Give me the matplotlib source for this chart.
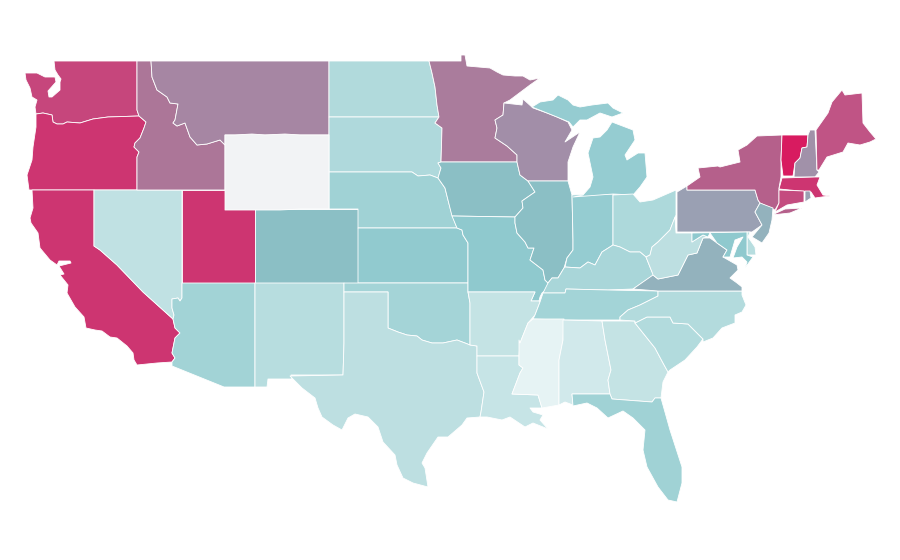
"""US states choropleth, outlines traced by hand in figure pixels."""
import numpy as np
import matplotlib
matplotlib.use("Agg")
import matplotlib.pyplot as plt
from matplotlib.collections import PolyCollection
from matplotlib.colors import LinearSegmentedColormap, Normalize

# state value on a 0-1 scale, nan = no data
states = ["WA", "OR", "CA", "NV", "ID", "MT", "UT", "AZ", "CO", "NM", "ND", "SD",
          "NE", "KS", "OK", "TX", "MN", "IA", "MO", "AR", "LA", "WI", "IL", "IN",
          "MI", "OH", "KY", "TN", "MS", "AL", "GA", "FL", "SC", "NC", "VA", "WV",
          "PA", "NY", "VT", "NH", "ME", "MA", "CT", "RI", "NJ", "DE", "MD", "WY"]
values = [0.81, 0.85, 0.85, 0.11, 0.65, 0.60, 0.85, 0.21, 0.40, 0.14, 0.16, 0.165,
          0.215, 0.29, 0.20, 0.12, 0.63, 0.40, 0.30, 0.10, 0.09, 0.57, 0.40, 0.27,
          0.27, 0.17, 0.185, 0.205, 0.0, 0.06, 0.10, 0.215, 0.155, 0.15, 0.45, 0.12,
          0.50, 0.72, 1.0, 0.56, 0.78, 0.85, 0.80, 0.50, 0.45, 0.14, 0.30, np.nan]

WA = [(54, 61), (137, 61), (137, 110), (139, 116), (108, 117), (93, 119), (80, 123), (67, 122),
      (63, 124), (57, 124), (53, 122), (52, 115), (43, 113), (36, 114), (35, 107), (37, 100),
      (32, 97), (30, 88), (26, 80), (25, 73), (37, 73), (45, 77), (55, 77), (56, 82), (48, 91),
      (49, 97), (52, 97), (60, 90), (60, 82), (61, 79), (58, 75), (55, 70)]
OR = [(36, 114), (43, 113), (52, 115), (53, 122), (57, 124), (63, 124), (67, 122), (80, 123),
      (93, 119), (108, 117), (139, 116), (146, 122), (144, 128), (140, 138), (135, 143),
      (134, 147), (139, 152), (137, 157), (137, 190), (29, 190), (27, 175), (32, 160),
      (33, 147), (36, 127)]
CA = [(32, 190), (94, 190), (94, 246), (100, 250), (117, 265), (143, 292), (173, 319), (175, 328),
      (180, 333), (175, 338), (173, 348), (172, 353), (175, 358), (172, 362), (157, 363),
      (137, 365), (134, 360), (133, 353), (127, 346), (117, 338), (110, 337), (102, 331),
      (95, 330), (86, 328), (84, 317), (75, 307), (67, 293), (68, 285), (60, 275), (64, 274),
      (59, 266), (71, 263), (70, 261), (59, 261), (57, 265), (50, 260), (40, 248), (38, 233),
      (31, 223), (30, 218), (33, 208)]
NV = [(94, 190), (182, 190), (182, 298), (180, 301), (178, 298), (172, 299), (172, 308),
      (174, 315), (173, 319), (143, 292), (117, 265), (100, 250), (94, 246)]
ID = [(137, 61), (151, 61), (152, 77), (157, 90), (167, 97), (170, 103), (178, 104), (175, 120),
      (173, 123), (177, 126), (185, 123), (190, 137), (197, 145), (207, 144), (220, 140),
      (225, 145), (225, 190), (137, 190), (137, 157), (139, 152), (134, 147), (135, 143),
      (140, 138), (144, 128), (146, 122), (139, 116), (137, 110)]
MT = [(151, 61), (329, 61), (329, 135), (225, 135), (225, 145), (220, 140), (207, 144), (197, 145),
      (190, 137), (185, 123), (177, 126), (173, 123), (175, 120), (178, 104), (170, 103),
      (167, 97), (157, 90), (152, 77)]
WY = [(225, 135), (235, 135), (252, 134), (265, 135), (285, 134), (300, 135), (329, 135),
      (329, 209), (300, 209), (280, 210), (225, 210)]
UT = [(182, 190), (225, 190), (225, 209), (255, 209), (255, 283), (182, 283)]
AZ = [(182, 283), (255, 283), (255, 387), (224, 387), (172, 366), (172, 362), (175, 358),
      (172, 353), (173, 348), (175, 338), (180, 333), (175, 328), (173, 319), (174, 315),
      (172, 308), (172, 299), (178, 298), (180, 301), (182, 298)]
CO = [(255, 209), (358, 209), (358, 283), (255, 283)]
NM = [(255, 283), (344, 283), (344, 343), (343, 375), (291, 375), (292, 379), (268, 379),
      (267, 387), (255, 387)]
ND = [(329, 61), (429, 61), (432, 73), (435, 87), (437, 105), (439, 117), (329, 117)]
SD = [(329, 117), (439, 117), (435, 123), (442, 128), (441, 162), (438, 163), (441, 168),
      (438, 178), (430, 175), (418, 176), (412, 172), (329, 172)]
NE = [(329, 172), (412, 172), (418, 176), (430, 175), (438, 178), (445, 188), (448, 200),
      (452, 215), (457, 228), (358, 228), (358, 209), (329, 209)]
KS = [(358, 228), (457, 228), (462, 230), (463, 235), (468, 243), (468, 283), (358, 283)]
OK = [(344, 283), (468, 283), (468, 292), (470, 303), (470, 345), (465, 343), (457, 340),
      (443, 343), (432, 343), (422, 340), (417, 336), (407, 335), (398, 332), (388, 328),
      (388, 292), (344, 292)]
TX = [(344, 292), (388, 292), (388, 328), (398, 332), (407, 335), (417, 336), (422, 340),
      (432, 343), (443, 343), (457, 340), (465, 343), (470, 345), (477, 346), (477, 373),
      (484, 392), (481, 412), (480, 417), (467, 418), (462, 425), (448, 437), (438, 437),
      (427, 453), (422, 463), (425, 468), (428, 487), (413, 483), (403, 478), (397, 465),
      (395, 455), (383, 442), (378, 427), (368, 417), (355, 414), (348, 418), (342, 430),
      (333, 425), (322, 417), (318, 408), (315, 398), (302, 388), (290, 376), (343, 375),
      (344, 343)]
MN = [(429, 61), (461, 61), (461, 55), (465, 55), (467, 66), (490, 68), (497, 72), (503, 75),
      (515, 76), (523, 76), (530, 80), (540, 78), (530, 85), (510, 100), (504, 103), (503, 115),
      (495, 120), (497, 128), (495, 138), (507, 146), (517, 155), (517, 162), (441, 162),
      (442, 128), (435, 123), (439, 117), (437, 105), (435, 87), (432, 73)]
IA = [(441, 162), (517, 162), (520, 175), (528, 181), (535, 192), (522, 201), (523, 208),
      (515, 217), (452, 216), (448, 200), (445, 188), (438, 178), (441, 168), (438, 163)]
MO = [(452, 216), (515, 217), (515, 223), (517, 233), (525, 242), (528, 248), (534, 248), (530, 260),
      (543, 270), (545, 280), (548, 283), (548, 288), (542, 293), (540, 297), (539, 301),
      (531, 301), (535, 292), (468, 292), (468, 243), (463, 235), (462, 230), (457, 228)]
AR = [(468, 292), (535, 292), (531, 301), (539, 301), (540, 302), (535, 315), (528, 323),
      (520, 343), (519, 356), (477, 356), (477, 346), (470, 345), (470, 303)]
LA = [(477, 356), (519, 356), (519, 365), (523, 368), (520, 373), (512, 394), (538, 395),
      (542, 408), (530, 408), (533, 412), (543, 415), (540, 420), (548, 429), (533, 423),
      (525, 427), (510, 417), (502, 420), (487, 417), (480, 417), (481, 412), (484, 392),
      (477, 373)]
WI = [(504, 103), (522, 105), (523, 99), (533, 108), (547, 113), (557, 117), (568, 122), (572, 130),
      (565, 142), (580, 132), (573, 147), (568, 162), (568, 181), (528, 181), (520, 175),
      (517, 162), (517, 155), (507, 146), (495, 138), (497, 128), (495, 120), (503, 115)]
IL = [(528, 181), (568, 181), (572, 195), (573, 240), (573, 250), (567, 258), (564, 268),
      (558, 278), (552, 278), (548, 283), (545, 280), (543, 270), (530, 260), (534, 248),
      (528, 248), (525, 242), (517, 233), (515, 223), (515, 217), (523, 208), (522, 201), (535, 192)]
IN = [(572, 195), (613, 194), (613, 245), (602, 252), (595, 265), (588, 262), (580, 268),
      (565, 267), (567, 258), (573, 250), (573, 240)]
MI = [(573, 197), (613, 194), (633, 195), (640, 187), (647, 177), (645, 153), (638, 153),
      (627, 160), (625, 155), (635, 140), (633, 130), (612, 122), (607, 130), (600, 137),
      (593, 138), (588, 153), (593, 177), (590, 187), (583, 195)]
MI_UPPER = [(532, 107), (540, 102), (553, 100), (558, 95), (568, 100), (573, 105), (580, 107),
            (592, 105), (608, 103), (613, 108), (623, 113), (612, 117), (600, 113), (587, 120),
            (580, 120), (573, 127), (569, 122), (557, 117), (547, 113)]
OH = [(613, 195), (633, 194), (640, 202), (653, 200), (676, 190), (676, 215), (670, 230),
      (658, 242), (652, 247), (650, 255), (646, 257), (640, 252), (630, 252), (620, 247), (613, 245)]
KY = [(548, 283), (552, 278), (558, 278), (564, 268), (565, 267), (580, 268), (588, 262), (595, 265),
      (602, 252), (613, 245), (620, 247), (630, 252), (640, 252), (646, 257), (652, 272),
      (655, 274), (633, 289), (608, 290), (566, 289), (565, 293), (543, 293)]
TN = [(543, 293), (565, 293), (566, 289), (608, 290), (658, 291), (658, 296), (640, 305), (628, 310),
      (620, 317), (620, 320), (563, 320), (533, 319), (535, 315), (540, 302)]
MS = [(533, 319), (564, 319), (563, 340), (559, 360), (559, 405), (542, 408), (538, 395), (512, 394),
      (520, 373), (523, 368), (519, 365), (519, 340), (520, 343), (528, 323)]
AL = [(563, 320), (602, 321), (605, 340), (611, 370), (608, 380), (610, 394), (572, 394),
      (573, 405), (565, 402), (559, 405), (559, 360), (563, 340)]
GA = [(602, 321), (635, 321), (635, 323), (643, 333), (655, 348), (663, 363), (668, 372), (663, 382),
      (661, 398), (655, 398), (652, 402), (612, 399), (610, 394), (608, 380), (611, 370), (605, 340)]
FL = [(572, 394), (610, 394), (612, 399), (652, 402), (655, 398), (661, 398), (670, 430),
      (682, 467), (682, 483), (677, 502), (668, 500), (658, 487), (647, 467), (643, 450),
      (645, 430), (633, 418), (623, 411), (608, 418), (597, 408), (587, 403), (573, 406)]
SC = [(635, 323), (647, 317), (670, 317), (673, 323), (688, 324), (703, 339), (697, 347),
      (685, 360), (670, 370), (668, 372), (663, 363), (655, 348), (643, 333)]
NC = [(658, 291), (742, 291), (742, 295), (746, 305), (742, 312), (735, 315), (735, 323), (722, 328),
      (713, 338), (703, 342), (703, 339), (688, 324), (673, 323), (670, 317), (647, 317),
      (635, 323), (635, 321), (620, 320), (620, 317), (628, 310), (640, 305), (658, 296)]
VA = [(633, 289), (653, 275), (658, 279), (678, 275), (688, 255), (697, 253), (703, 238), (710, 238),
      (717, 243), (727, 250), (723, 257), (737, 265), (738, 270), (730, 278), (737, 283),
      (742, 287), (742, 291), (658, 291)]
WV = [(646, 257), (650, 255), (652, 247), (658, 242), (670, 230), (675, 217), (676, 233), (692, 233),
      (692, 242), (703, 235), (708, 237), (703, 238), (697, 253), (688, 255), (678, 275),
      (658, 279), (653, 275), (652, 272)]
PA = [(677, 192), (687, 186), (687, 190), (755, 190), (758, 200), (760, 203), (755, 212), (762, 225),
      (752, 232), (677, 232)]
NY = [(687, 190), (687, 186), (700, 177), (698, 168), (718, 166), (720, 167), (740, 162), (738, 150),
      (747, 145), (757, 136), (782, 135), (781, 160), (781, 177), (779, 188), (779, 203),
      (775, 210), (760, 203), (758, 200), (755, 190)]
NY_LONG_ISLAND = [(772, 215), (785, 209), (802, 208), (790, 213)]
VT = [(782, 135), (808, 135), (807, 147), (802, 148), (800, 158), (795, 163), (793, 176),
      (783, 176), (781, 160)]
NH = [(810, 130), (815, 130), (817, 170), (819, 172), (815, 177), (794, 177), (795, 163), (800, 158),
      (802, 148), (807, 147), (808, 135)]
ME = [(816, 130), (828, 113), (832, 102), (842, 90), (845, 95), (862, 93), (863, 123), (870, 132),
      (876, 139), (870, 142), (860, 145), (848, 143), (843, 152), (827, 157), (819, 170), (817, 170)]
MA = [(782, 178), (815, 177), (820, 177), (817, 185), (823, 195), (830, 196), (822, 197), (815, 198),
      (811, 192), (779, 189)]
CT = [(779, 190), (804, 191), (804, 202), (787, 205), (775, 212), (779, 203)]
RI = [(805, 191), (810, 191), (811, 198), (805, 202)]
NJ = [(755, 212), (760, 203), (773, 208), (772, 220), (769, 233), (762, 243), (752, 237), (762, 225)]
DE = [(747, 232), (750, 232), (748, 237), (755, 247), (756, 255), (747, 255)]
MD = [(692, 233), (747, 232), (747, 255), (753, 257), (745, 268), (747, 262), (742, 257), (733, 258),
      (737, 247), (743, 237), (735, 240), (730, 257), (723, 257), (727, 250), (717, 243),
      (710, 233), (708, 237), (703, 235), (692, 242)]

# one or more rings per state
outlines = {"WA": [WA], "OR": [OR], "CA": [CA], "NV": [NV], "ID": [ID], "MT": [MT],
            "UT": [UT], "AZ": [AZ], "CO": [CO], "NM": [NM], "ND": [ND], "SD": [SD], "NE": [NE],
            "KS": [KS], "OK": [OK], "TX": [TX], "MN": [MN], "IA": [IA], "MO": [MO], "AR": [AR],
            "LA": [LA], "WI": [WI], "IL": [IL], "IN": [IN], "MI": [MI, MI_UPPER],
            "OH": [OH], "KY": [KY], "TN": [TN], "MS": [MS], "AL": [AL], "GA": [GA], "FL": [FL],
            "SC": [SC], "NC": [NC], "VA": [VA], "WV": [WV], "PA": [PA], "NY": [NY, NY_LONG_ISLAND],
            "VT": [VT], "NH": [NH], "ME": [ME], "MA": [MA], "CT": [CT], "RI": [RI], "NJ": [NJ],
            "DE": [DE], "MD": [MD], "WY": [WY]}

scale = LinearSegmentedColormap.from_list("scale", [
    (0.0, "#e6f3f4"), (0.12, "#bcdfe1"), (0.21, "#a1d3d6"), (0.30, "#8fc9ce"), (0.40, "#8bbfc5"),
    (0.45, "#93b2bd"), (0.50, "#9aa1b3"), (0.60, "#a686a3"), (0.65, "#ac7698"), (0.72, "#b5608b"),
    (0.78, "#c05485"), (0.85, "#cd3571"), (1.0, "#d81b60")])
scale.set_bad("#f2f3f5")

rings, ring_vals = [], []
for name, val in zip(states, values):
    for ring in outlines[name]:
        rings.append(ring)
        ring_vals.append(val)

fig = plt.figure(figsize=(9, 5.6), dpi=100)
ax = fig.add_axes([0, 0, 1, 1])
polys = PolyCollection(rings, array=np.array(ring_vals), cmap=scale, norm=Normalize(0, 1),
                       edgecolors="white", linewidths=0.6)
ax.add_collection(polys)
ax.set_xlim(0, 900)
ax.set_ylim(560, 0)
ax.axis("off")
fig.savefig("out.png", dpi=100)
